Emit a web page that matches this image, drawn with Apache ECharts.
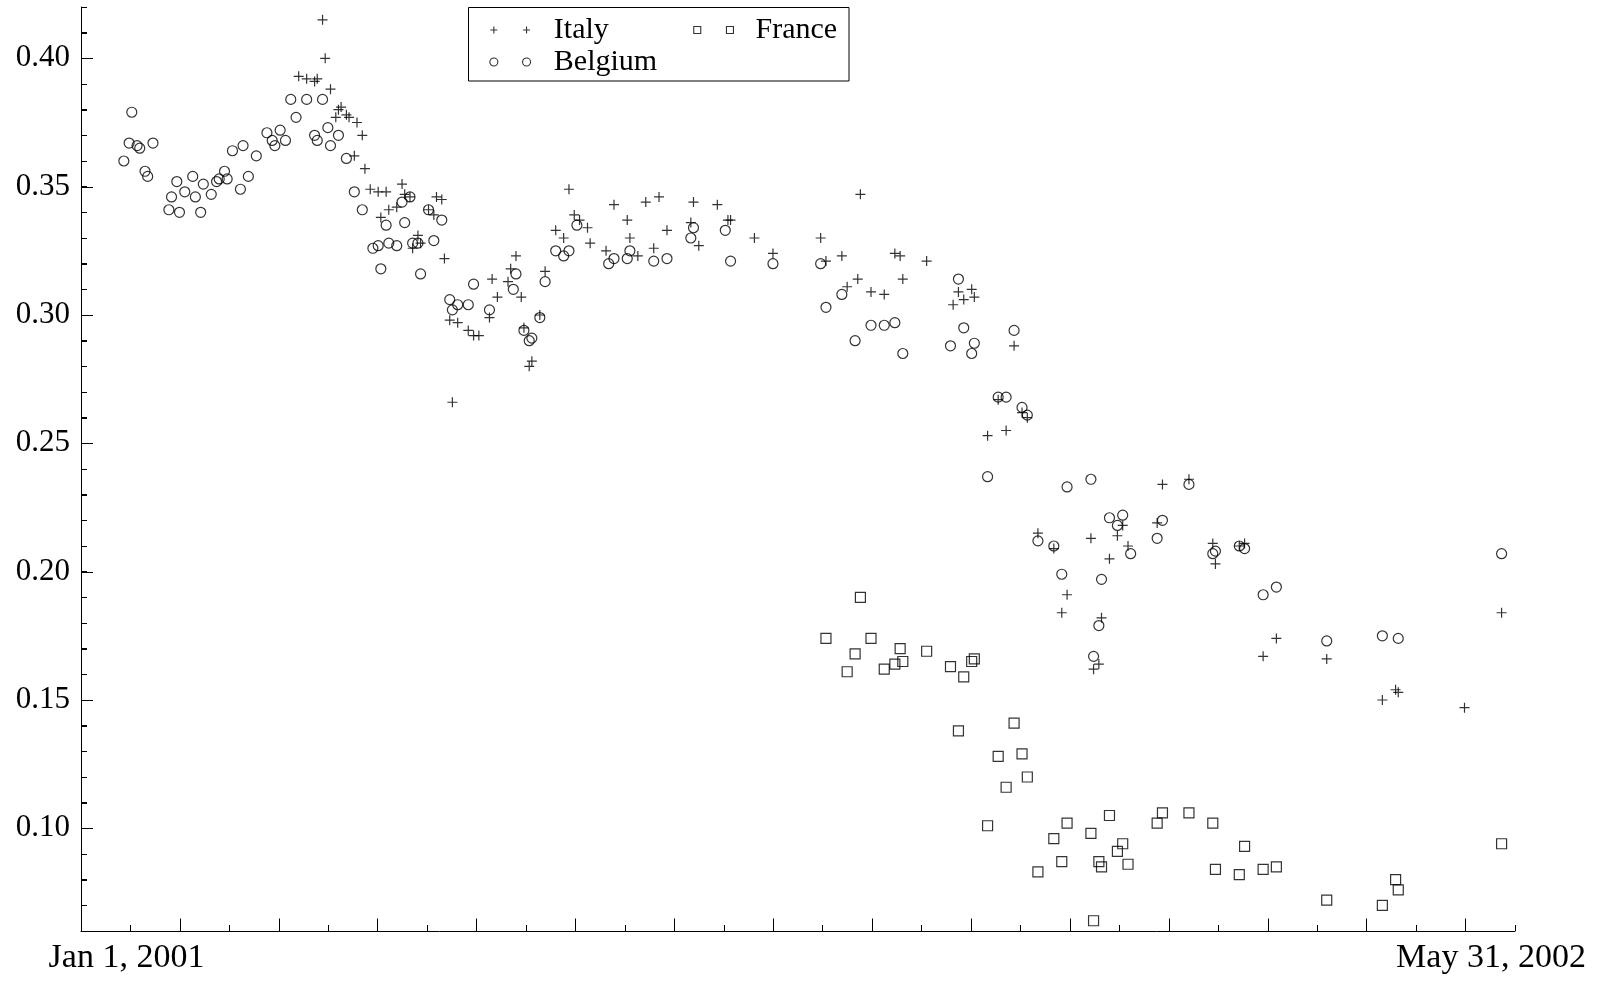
<!DOCTYPE html>
<html>
<head>
<meta charset="utf-8">
<script src="https://cdn.jsdelivr.net/npm/echarts@6/dist/echarts.min.js"></script>
<style>
html,body{margin:0;padding:0;background:#fff;}
#chart{width:1609px;height:982px;}
</style>
</head>
<body>
<div id="chart"></div>
<script>
// ---- data: day offsets from Jan 1, 2001 and observed values ----
const italyDay = [65,68,71,72,74,75,77,79,80,81,83,84,86,87,89,90,92,95,96,98,99,102,104,105,107,108,110,111,114,116,117,119,120,122,123,125,129,131,133,137,138,140,144,145,147,149,150,152,153,156,158,162,165,167,169,171,174,175,181,184,189,190,193,196,199,201,204,213,214,216,223,227,228,237,244,262,264,270,272,276,277,281,286,290,292,293,302,312,314,316,319,320,325,329,332,335,338,340,344,350,353,355,364,365,367,368,371,374,376,378,389,391,401,410,411,420,422,429,434,453,474,479,480,505,519];
const italyValue = [0.393,0.392,0.391,0.392,0.415,0.400,0.388,0.377,0.380,0.381,0.378,0.377,0.362,0.375,0.370,0.357,0.349,0.348,0.338,0.348,0.341,0.342,0.351,0.347,0.346,0.326,0.331,0.328,0.341,0.339,0.346,0.345,0.322,0.298,0.266,0.297,0.294,0.292,0.292,0.299,0.314,0.307,0.313,0.318,0.323,0.307,0.295,0.280,0.282,0.300,0.317,0.333,0.330,0.349,0.339,0.337,0.334,0.328,0.325,0.343,0.337,0.330,0.323,0.344,0.326,0.346,0.333,0.336,0.344,0.327,0.343,0.337,0.337,0.330,0.324,0.330,0.321,0.323,0.311,0.314,0.347,0.309,0.308,0.324,0.323,0.314,0.321,0.304,0.309,0.306,0.310,0.307,0.253,0.267,0.255,0.288,0.262,0.260,0.215,0.209,0.184,0.191,0.213,0.162,0.164,0.182,0.205,0.214,0.218,0.210,0.219,0.234,0.236,0.211,0.203,0.210,0.211,0.167,0.174,0.166,0.150,0.154,0.153,0.147,0.184];

const belgiumDay = [-1,1,2,4,5,7,8,10,16,17,19,20,22,25,26,28,29,32,34,35,37,38,40,43,44,46,49,53,55,56,58,60,62,64,68,71,72,74,76,77,80,83,86,89,93,95,96,98,99,102,104,105,107,108,110,111,114,116,119,122,123,125,129,131,137,146,147,150,152,153,156,158,162,165,167,170,182,184,189,190,199,204,213,214,226,228,244,262,264,270,275,281,286,290,293,311,314,316,319,320,325,329,332,335,338,340,344,350,353,355,364,365,367,368,371,374,376,379,389,391,401,410,411,420,422,429,434,453,474,480,519];
const belgiumValue = [0.360,0.367,0.379,0.366,0.365,0.356,0.354,0.367,0.341,0.346,0.352,0.340,0.348,0.354,0.346,0.340,0.351,0.347,0.352,0.353,0.356,0.353,0.364,0.349,0.366,0.354,0.362,0.371,0.368,0.366,0.372,0.368,0.384,0.377,0.384,0.370,0.368,0.384,0.373,0.366,0.370,0.361,0.348,0.341,0.326,0.327,0.318,0.335,0.328,0.327,0.344,0.336,0.346,0.328,0.328,0.316,0.341,0.329,0.337,0.306,0.302,0.304,0.304,0.312,0.302,0.310,0.316,0.294,0.290,0.291,0.299,0.313,0.325,0.323,0.325,0.335,0.320,0.322,0.322,0.325,0.321,0.322,0.330,0.334,0.333,0.321,0.320,0.320,0.303,0.308,0.290,0.296,0.296,0.297,0.285,0.288,0.314,0.295,0.285,0.289,0.237,0.268,0.268,0.294,0.264,0.261,0.212,0.210,0.199,0.233,0.236,0.167,0.179,0.197,0.221,0.218,0.222,0.207,0.213,0.220,0.234,0.207,0.208,0.210,0.209,0.191,0.194,0.173,0.175,0.174,0.207];

const franceDay = [264,272,275,277,281,286,290,292,293,302,311,314,316,319,320,325,329,332,335,338,340,344,350,353,355,364,365,367,368,371,374,376,378,389,391,401,410,411,420,422,429,434,453,474,479,480,519];
const franceValue = [0.174,0.161,0.168,0.190,0.174,0.162,0.164,0.170,0.165,0.169,0.163,0.138,0.159,0.165,0.166,0.101,0.128,0.116,0.141,0.129,0.120,0.083,0.096,0.087,0.102,0.098,0.064,0.087,0.085,0.105,0.091,0.094,0.086,0.102,0.106,0.106,0.102,0.084,0.082,0.093,0.084,0.085,0.072,0.070,0.080,0.076,0.094];

// ---- axis ticks / labels ----
const xLabelDays = [0, 515];              // Jan 1, 2001 and May 31, 2002
const yLabelValues = [0.10, 0.15, 0.20, 0.25, 0.30, 0.35, 0.40];
const yMinorValues = [0.07,0.08,0.09,0.11,0.12,0.13,0.14,0.16,0.17,0.18,0.19,0.21,0.22,0.23,0.24,0.26,0.27,0.28,0.29,0.31,0.32,0.33,0.34,0.36,0.37,0.38,0.39,0.41];

const DAY = 86400000;
const BASE = Date.UTC(2001, 0, 1);
const X_MIN = -17.165;
const X_MAX = 524.06;
const X_TICK_STEPS = 29;
const Y_MIN = 0.06, Y_MAX = 0.42;
const xMajorTicks = [], xMinorTicks = [];
for (let k = 0; k <= X_TICK_STEPS; k++) {
  const t = X_MIN + k * (X_MAX - X_MIN) / X_TICK_STEPS;
  (k % 2 === 0 ? xMajorTicks : xMinorTicks).push(t);
}
const MONTHS = ['Jan','Feb','Mar','Apr','May','Jun','Jul','Aug','Sep','Oct','Nov','Dec'];
const fmtDay = v => { const d = new Date(BASE + Math.round(v) * DAY); return MONTHS[d.getUTCMonth()] + ' ' + d.getUTCDate() + ', ' + d.getUTCFullYear(); };

const SERIF = "'Liberation Serif','Times New Roman',Times,serif";
const PLUS = 'path://M0,5L10,5M5,0L5,10';
const ICON_PLUS2 = 'path://M0,3.5L7,3.5M3.5,0L3.5,7M32.7,3.5L39.7,3.5M36.2,0L36.2,7';
const ICON_CIRCLE2 = 'path://M0,4A4,4,0,1,1,8,4A4,4,0,1,1,0,4ZM32.7,4A4,4,0,1,1,40.7,4A4,4,0,1,1,32.7,4Z';
const ICON_SQUARE2 = 'path://M0,0L7,0L7,7L0,7ZM32.7,0L39.7,0L39.7,7L32.7,7Z';
const Y_TICK_LONG = 12, Y_TICK_SHORT = 6;

const hollow = { color: 'rgba(0,0,0,0)', borderColor: '#000', borderWidth: 1.2 };
const pairs = (days, vals) => days.map((d, i) => [d, vals[i]]);

function legendFor(name, icon, w, h, left, top, padLeft) {
  return {
    show: true, selectedMode: false, orient: 'horizontal',
    left: left, top: top, padding: 0,
    itemWidth: w, itemHeight: h,
    itemStyle: { color: 'rgba(0,0,0,0)', borderColor: '#000', borderWidth: 1.1 },
    textStyle: { fontFamily: SERIF, fontSize: 30, color: '#000', lineHeight: 30, padding: [0, 0, 0, padLeft] },
    data: [{ name: name, icon: icon }]
  };
}

// y-axis tick marks, positioned through the y scale
const yTickData = yLabelValues.map(v => [X_MIN, v, Y_TICK_LONG])
  .concat(yMinorValues.map(v => [X_MIN, v, Y_TICK_SHORT]));

const chart = echarts.init(document.getElementById('chart'), null, { renderer: 'canvas' });
chart.setOption({
  animation: false,
  backgroundColor: '#fff',
  textStyle: { fontFamily: SERIF, color: '#000' },
  grid: { left: 81, right: 94, top: 7, bottom: 51, containLabel: false, outerBoundsMode: 'none' },
  legend: [
    legendFor('Italy', ICON_PLUS2, 39.7, 7, 489.8, 15, 18.8),
    legendFor('France', ICON_SQUARE2, 39.7, 7, 693.2, 15, 17.1),
    legendFor('Belgium', ICON_CIRCLE2, 40.7, 8, 489.3, 47, 18.3)
  ],
  graphic: [{
    type: 'rect', silent: true,
    shape: { x: 468.5, y: 7.5, width: 380.5, height: 73.5 },
    style: { fill: 'none', stroke: '#000', lineWidth: 1 }
  }],
  xAxis: [{
    type: 'value', min: X_MIN, max: X_MAX, position: 'bottom', scale: true,
    axisLine: { show: true, onZero: false, lineStyle: { color: '#000', width: 1 } },
    axisTick: { show: true, inside: true, length: 12.5, customValues: xMajorTicks, lineStyle: { color: '#000', width: 1 } },
    axisLabel: { show: true, customValues: xLabelDays, formatter: fmtDay,
      fontFamily: SERIF, fontSize: 34, color: '#000', margin: 10 },
    splitLine: { show: false }
  }, {
    type: 'value', min: X_MIN, max: X_MAX, position: 'bottom', scale: true,
    axisLine: { show: false, onZero: false },
    axisTick: { show: true, inside: true, length: 6, customValues: xMinorTicks, lineStyle: { color: '#000', width: 1 } },
    axisLabel: { show: false }, splitLine: { show: false }
  }],
  yAxis: [{
    type: 'value', min: Y_MIN, max: Y_MAX, interval: 0.01, position: 'left',
    axisLine: { show: true, onZero: false, lineStyle: { color: '#000', width: 1 } },
    axisTick: { show: true, inside: true, length: 6, lineStyle: { color: '#000', width: 1 } },
    axisLabel: { show: true, customValues: yLabelValues, formatter: v => v.toFixed(2),
      fontFamily: SERIF, fontSize: 31, color: '#000', margin: 11 },
    splitLine: { show: false }
  }],
  series: [
    { name: 'Italy', type: 'scatter', xAxisIndex: 0, yAxisIndex: 0, symbol: PLUS, symbolSize: 10,
      itemStyle: hollow, emphasis: { disabled: true }, data: pairs(italyDay, italyValue) },
    { name: 'Belgium', type: 'scatter', xAxisIndex: 0, yAxisIndex: 0, symbol: 'circle', symbolSize: 10,
      itemStyle: hollow, emphasis: { disabled: true }, data: pairs(belgiumDay, belgiumValue) },
    { name: 'France', type: 'scatter', xAxisIndex: 0, yAxisIndex: 0, symbol: 'rect', symbolSize: 10,
      itemStyle: hollow, emphasis: { disabled: true }, data: pairs(franceDay, franceValue) },
    { name: 'yTicks', type: 'custom', xAxisIndex: 0, yAxisIndex: 0, silent: true, clip: false,
      encode: { x: 0, y: 1 }, data: yTickData,
      renderItem: function (params, api) {
        const p = api.coord([api.value(0), api.value(1)]);
        const y = Math.round(p[1]) + 0.5;
        return { type: 'line', silent: true,
          shape: { x1: p[0], y1: y, x2: p[0] + api.value(2), y2: y },
          style: { stroke: '#000', lineWidth: 1 } };
      } }
  ]
});
</script>
</body>
</html>
